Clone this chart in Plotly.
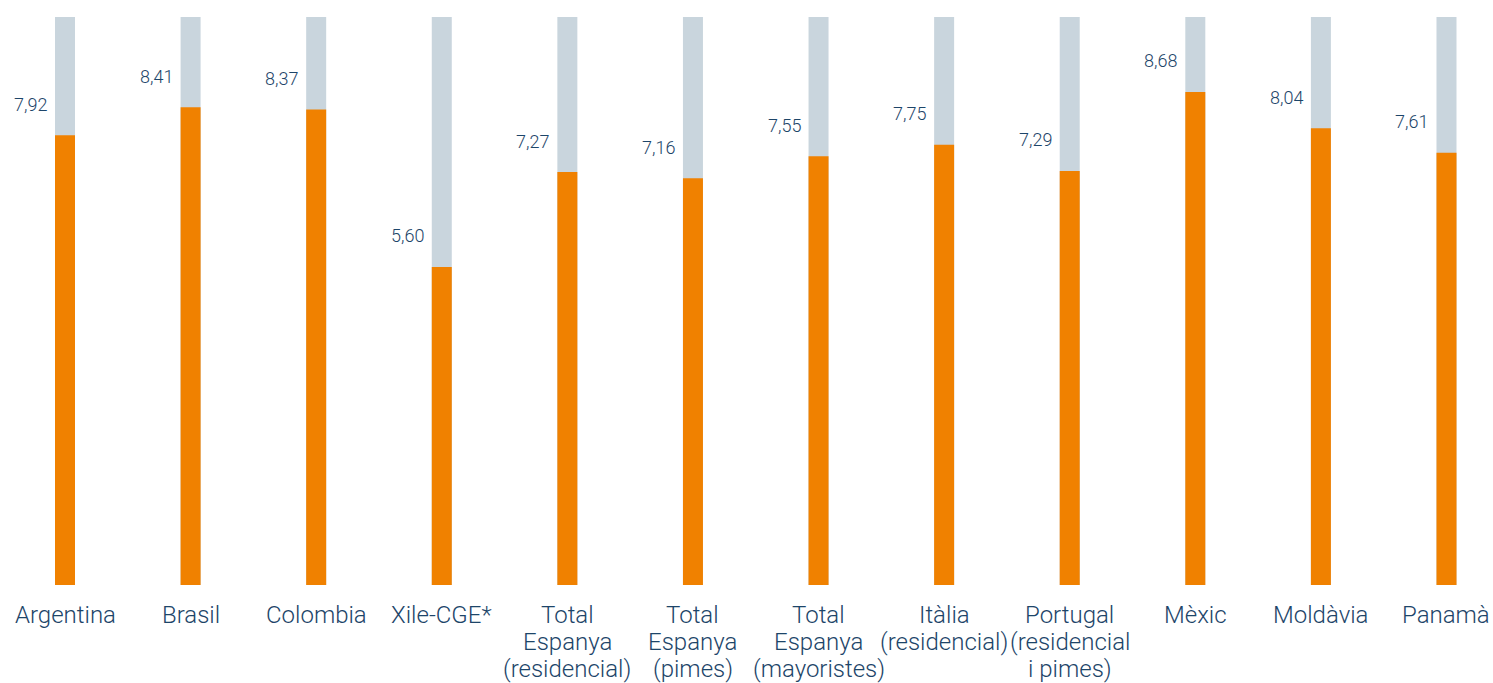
import plotly.graph_objects as go

# Satisfaction index by market (scale 0-10)
categories = [
    "Argentina", "Brasil", "Colombia", "Xile-CGE*",
    "Total<br>Espanya<br>(residencial)", "Total<br>Espanya<br>(pimes)",
    "Total<br>Espanya<br>(mayoristes)", "Itàlia<br>(residencial)",
    "Portugal<br>(residencial<br>i pimes)", "Mèxic", "Moldàvia", "Panamà",
]
values = [7.92, 8.41, 8.37, 5.60, 7.27, 7.16, 7.55, 7.75, 7.29, 8.68, 8.04, 7.61]
scale_max = 10

W, H = 1493, 683
first_center_px = 65
step_px = 125.59
bar_px = 20

x = list(range(len(categories)))
bar_w = bar_px / step_px

text_color = "#1d4569"
font_family = "Roboto, 'Liberation Sans', Arial, sans-serif"

fig = go.Figure()
fig.add_trace(go.Bar(
    x=x, y=[scale_max] * len(x), width=bar_w,
    marker=dict(color="#c9d5dd", line=dict(width=0)),
    hoverinfo="skip", showlegend=False,
))
fig.add_trace(go.Bar(
    x=x, y=values, width=bar_w,
    marker=dict(color="#f08100", line=dict(width=0)),
    showlegend=False,
))

# value labels, up and to the left of each bar top
for xi, v in zip(x, values):
    fig.add_annotation(
        x=xi, y=v, text=f"{v:.2f}".replace(".", ","),
        showarrow=False, xanchor="right", yanchor="middle",
        xshift=-(bar_px / 2 + 6), yshift=31,
        font=dict(size=18, color=text_color, family=font_family, weight=300),
    )

# category labels, one line at a time for tight leading
line_gap = 27
for xi, cat in zip(x, categories):
    for k, line in enumerate(cat.split("<br>")):
        fig.add_annotation(
            x=xi, y=0, text=line, showarrow=False,
            xanchor="center", yanchor="middle",
            yshift=-(30 + line_gap * k),
            font=dict(size=24, color=text_color, family=font_family, weight=300),
        )

fig.update_layout(
    width=W, height=H,
    margin=dict(l=0, r=0, t=17, b=98),
    barmode="overlay",
    plot_bgcolor="white", paper_bgcolor="white",
    xaxis=dict(
        range=[-first_center_px / step_px, (W - first_center_px) / step_px],
        tickvals=x, showticklabels=False,
        showgrid=False, zeroline=False, showline=False, ticks="",
        fixedrange=True,
    ),
    yaxis=dict(
        range=[0, scale_max], visible=False, fixedrange=True,
    ),
)

fig.write_html("out.html")
